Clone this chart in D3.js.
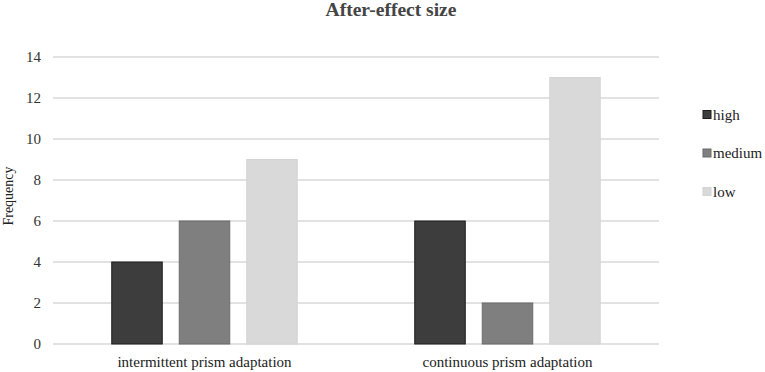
<!DOCTYPE html>
<html><head><meta charset="utf-8">
<script src="https://cdn.jsdelivr.net/npm/d3@7"></script>
<style>body{margin:0;background:#fff}svg{display:block}text{font-family:"Liberation Serif","Times New Roman",serif}</style>
</head><body>
<svg id="c" width="765" height="372"></svg>
<script>
const categories = ["intermittent prism adaptation", "continuous prism adaptation"];
const seriesNames = ["high", "medium", "low"];
const high = [4, 6];
const medium = [6, 2];
const low = [9, 13];
const yTicks = [0, 2, 4, 6, 8, 10, 12, 14];
const title = "After-effect size";
const yLabel = "Frequency";

(function () {
const fills = {high: "#3d3d3d", medium: "#7f7f7f", low: "#d9d9d9"};
const strokes = {high: "#1e1e1e", medium: "#6b6b6b", low: "#d4d4d4"};
const values = {high, medium, low};

const svg = d3.select("#c");
const mLeft = 53, mRight = 659, mTop = 57, mBottom = 344;

const x0 = d3.scaleBand().domain(categories).range([mLeft, mRight]).paddingInner(0).paddingOuter(0);
const x1 = d3.scaleBand().domain(seriesNames).range([0, x0.bandwidth()]).paddingInner(0.237).paddingOuter(0.863);
const y = d3.scaleLinear().domain([0, 14]).range([mBottom, mTop]);

svg.append("g").selectAll("line").data(yTicks).join("line")
  .attr("x1", mLeft).attr("x2", mRight)
  .attr("y1", d => y(d)).attr("y2", d => y(d))
  .attr("stroke", "#d9d9d9").attr("stroke-width", 1.3);

const yAxis = d3.axisLeft(y).tickValues(yTicks).tickSize(0).tickPadding(0);
const ya = svg.append("g").attr("transform", "translate(41,0)").call(yAxis);
ya.select(".domain").remove();
ya.selectAll("text").attr("font-size", 15).attr("fill", "#333");

const groups = svg.append("g").selectAll("g").data(categories).join("g")
  .attr("transform", d => `translate(${x0(d)},0)`);
groups.selectAll("rect").data((d, i) => seriesNames.map(s => ({s, v: values[s][i]}))).join("rect")
  .attr("x", d => x1(d.s) + 0.5).attr("width", x1.bandwidth() - 1)
  .attr("y", d => y(d.v)).attr("height", d => y(0) - y(d.v))
  .attr("fill", d => fills[d.s]).attr("stroke", d => strokes[d.s]).attr("stroke-width", 1);

const xAxis = d3.axisBottom(x0).tickSize(0).tickPadding(0);
const xa = svg.append("g").attr("transform", "translate(0,367)").call(xAxis);
xa.select(".domain").remove();
xa.selectAll("text").attr("font-size", 15).attr("fill", "#222").attr("dy", "0");

svg.append("text").attr("x", 391).attr("y", 16).attr("text-anchor", "middle")
  .attr("font-size", 19.5).attr("font-weight", "bold").attr("fill", "#444").text(title);

svg.append("text").attr("transform", "translate(13,196) rotate(-90)").attr("text-anchor", "middle")
  .attr("font-size", 14).attr("fill", "#222").text(yLabel);

const lg = svg.append("g").selectAll("g").data(seriesNames).join("g")
  .attr("transform", (d, i) => `translate(703,${115 + i * 38.5})`);
lg.append("rect").attr("x", 0).attr("y", -4.5).attr("width", 8).attr("height", 8)
  .attr("fill", d => fills[d]).attr("stroke", d => strokes[d]);
lg.append("text").attr("x", 10).attr("y", 4.5)
  .attr("font-size", 15).attr("fill", "#222").text(d => d);
})();
</script>
</body></html>
